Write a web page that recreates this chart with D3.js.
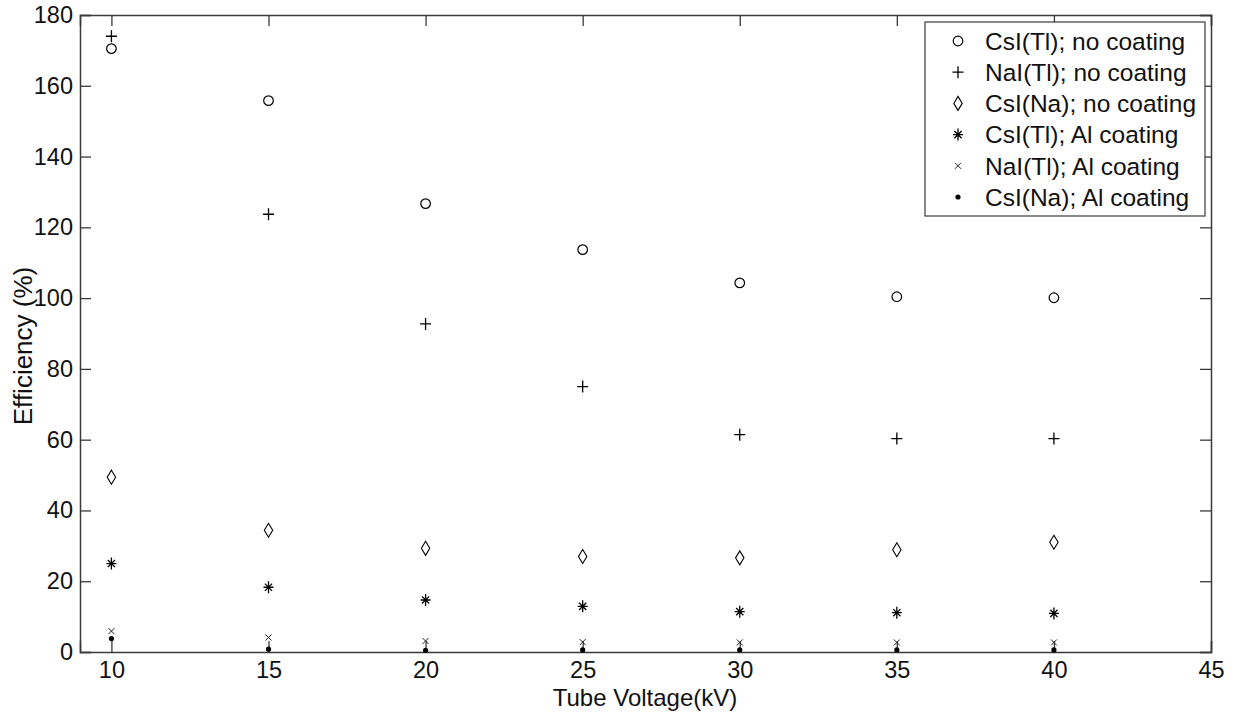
<!DOCTYPE html>
<html>
<head>
<meta charset="utf-8">
<script src="https://cdn.jsdelivr.net/npm/d3@7"></script>
<style>
  html, body { margin: 0; padding: 0; background: #fff; }
  svg { display: block; font-family: "Liberation Sans", Arial, sans-serif; }
</style>
</head>
<body>
<svg id="chart" width="1234" height="713"></svg>
<script>
// ---- data ----
const voltages = [10, 15, 20, 25, 30, 35, 40];
const seriesNames = [
  "CsI(Tl); no coating",
  "NaI(Tl); no coating",
  "CsI(Na); no coating",
  "CsI(Tl); Al coating",
  "NaI(Tl); Al coating",
  "CsI(Na); Al coating"
];
const csiTlNoCoat  = [170.5, 155.8, 126.7, 113.7, 104.3, 100.4, 100.1];
const naiTlNoCoat  = [174.0, 123.7, 92.7, 75.0, 61.4, 60.3, 60.3];
const csiNaNoCoat  = [49.4, 34.4, 29.3, 27.0, 26.6, 28.9, 31.0];
const csiTlAl      = [25.0, 18.3, 14.7, 12.9, 11.4, 11.1, 10.9];
const naiTlAl      = [5.9, 4.1, 3.1, 2.8, 2.7, 2.7, 2.7];
const csiNaAl      = [3.8, 0.8, 0.5, 0.6, 0.6, 0.6, 0.6];
const markerTypes  = ["circle", "plus", "diamond", "star", "cross", "dot"];
const xTicks = [10, 15, 20, 25, 30, 35, 40, 45];
const yTicks = [0, 20, 40, 60, 80, 100, 120, 140, 160, 180];
const xLabel = "Tube Voltage(kV)";
const yLabel = "Efficiency (%)";

const seriesValues = [csiTlNoCoat, naiTlNoCoat, csiNaNoCoat, csiTlAl, naiTlAl, csiNaAl];

// ---- layout ----
const svg = d3.select("#chart");
const L = 80, R = 1211, T = 15, B = 652;
const x = d3.scaleLinear().domain([9, 45]).range([L, R]);
const y = d3.scaleLinear().domain([0, 180]).range([B, T]);
const axisColor = "#3a3a3a";
const tickLen = 11;

// axes
const gx = svg.append("g").attr("transform", `translate(0,${B})`)
  .call(d3.axisBottom(x).tickValues(xTicks).tickSize(-tickLen).tickPadding(9).tickFormat(d3.format("d")));
const gxTop = svg.append("g").attr("transform", `translate(0,${T})`)
  .call(d3.axisTop(x).tickValues(xTicks).tickSize(-tickLen).tickFormat(""));
const gy = svg.append("g").attr("transform", `translate(${L},0)`)
  .call(d3.axisLeft(y).tickValues(yTicks).tickSize(-tickLen).tickPadding(7).tickFormat(d3.format("d")));
const gyR = svg.append("g").attr("transform", `translate(${R},0)`)
  .call(d3.axisRight(y).tickValues(yTicks).tickSize(-tickLen).tickFormat(""));

[gx, gxTop, gy, gyR].forEach(g => {
  g.select(".domain").attr("stroke", axisColor).attr("stroke-width", 1.5);
  g.selectAll(".tick line").attr("stroke", axisColor).attr("stroke-width", 1.3);
  g.selectAll(".tick text").attr("fill", "#111").style("font-size", "23.5px")
    .style("font-family", '"Liberation Sans", Arial, sans-serif');
});

// axis labels
svg.append("text")
  .attr("x", 645).attr("y", 706)
  .attr("text-anchor", "middle")
  .style("font-size", "24px").attr("fill", "#111")
  .text(xLabel);
svg.append("text")
  .attr("transform", `translate(32,346) rotate(-90)`)
  .attr("text-anchor", "middle")
  .style("font-size", "26px").attr("fill", "#111")
  .text(yLabel);

// marker drawing
function drawMarker(g, type, cx, cy) {
  const s = "#000";
  switch (type) {
    case "circle":
      g.append("circle").attr("cx", cx).attr("cy", cy).attr("r", 4.8)
        .attr("fill", "none").attr("stroke", s).attr("stroke-width", 1.2);
      break;
    case "plus":
      g.append("path").attr("d", `M${cx-5.5},${cy}H${cx+5.5}M${cx},${cy-6}V${cy+6}`)
        .attr("stroke", s).attr("stroke-width", 1.3).attr("fill", "none");
      break;
    case "diamond":
      g.append("path").attr("d", `M${cx},${cy-7}L${cx+4.2},${cy}L${cx},${cy+7}L${cx-4.2},${cy}Z`)
        .attr("stroke", s).attr("stroke-width", 1.1).attr("fill", "none");
      break;
    case "star":
      g.append("path").attr("d",
        `M${cx-5},${cy}H${cx+5}M${cx},${cy-6}V${cy+6}M${cx-3.6},${cy-3.6}L${cx+3.6},${cy+3.6}M${cx-3.6},${cy+3.6}L${cx+3.6},${cy-3.6}`)
        .attr("stroke", s).attr("stroke-width", 1.3).attr("fill", "none");
      break;
    case "cross":
      g.append("path").attr("d", `M${cx-3},${cy-3}L${cx+3},${cy+3}M${cx-3},${cy+3}L${cx+3},${cy-3}`)
        .attr("stroke", "#222").attr("stroke-width", 1).attr("fill", "none");
      break;
    case "dot":
      g.append("circle").attr("cx", cx).attr("cy", cy).attr("r", 2.6).attr("fill", s);
      break;
  }
}

// points
seriesValues.forEach((vals, i) => {
  const g = svg.append("g").attr("class", "series-" + i);
  vals.forEach((v, j) => drawMarker(g, markerTypes[i], x(voltages[j]), y(v)));
});

// legend
const lg = svg.append("g");
lg.append("rect").attr("x", 925).attr("y", 22).attr("width", 280).attr("height", 194)
  .attr("fill", "#fff").attr("stroke", axisColor).attr("stroke-width", 1.2);
seriesNames.forEach((name, i) => {
  const cy = 41 + i * 31.2;
  drawMarker(lg, markerTypes[i], 958, cy);
  lg.append("text").attr("x", 985).attr("y", cy).attr("dy", "0.36em")
    .style("font-size", "24.5px").attr("fill", "#111").text(name);
});
</script>
</body>
</html>
